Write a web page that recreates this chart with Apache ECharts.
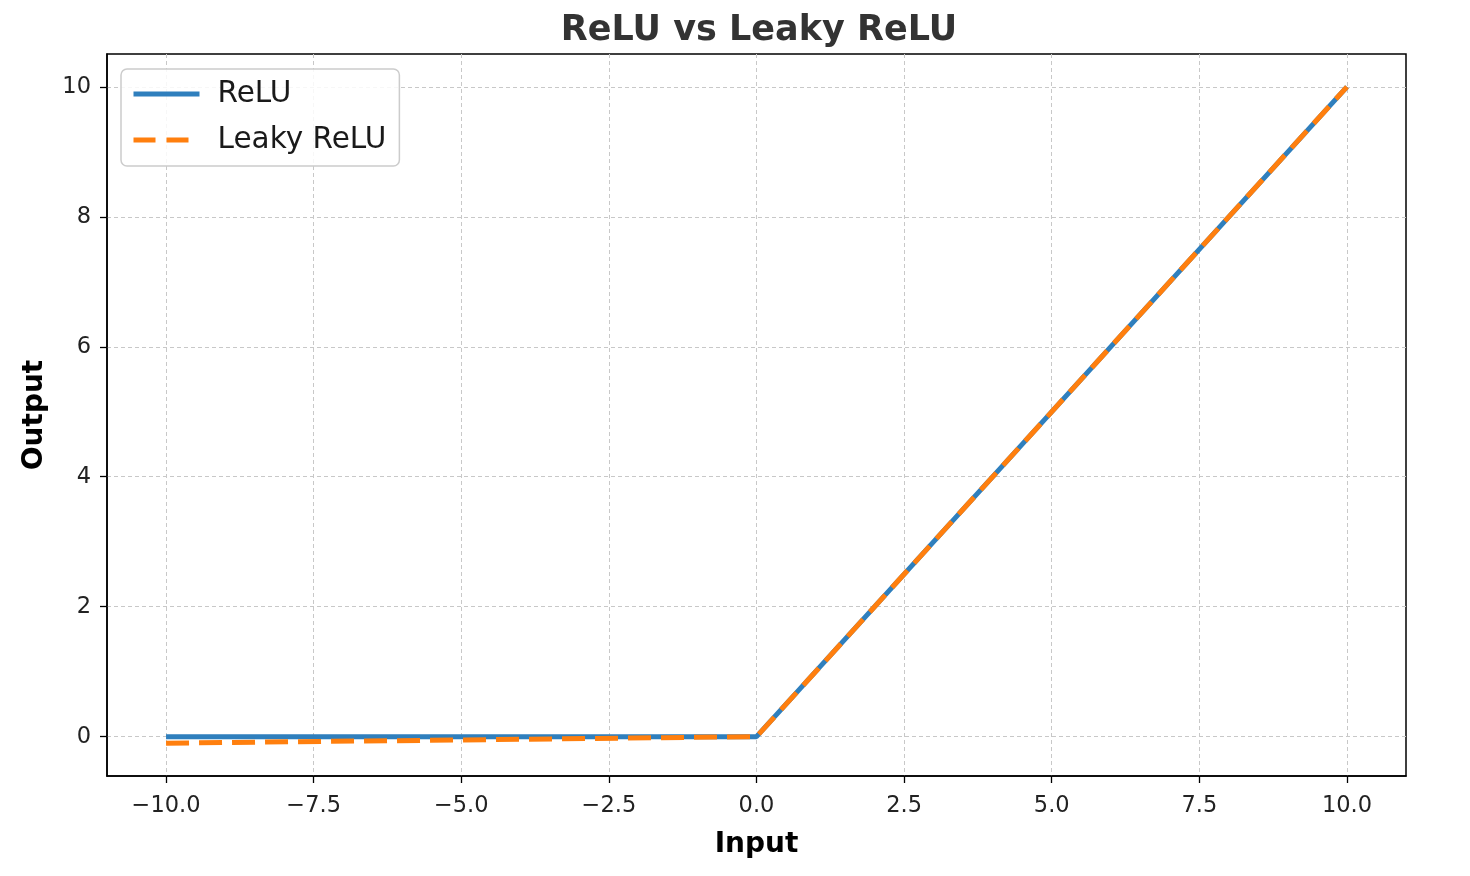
<!DOCTYPE html>
<html>
<head>
<meta charset="utf-8">
<script src="https://cdn.jsdelivr.net/npm/echarts@6/dist/echarts.min.js"></script>
<style>
html,body{margin:0;padding:0;background:#fff;}
#chart{width:1470px;height:876px;}
</style>
</head>
<body>
<div id="chart"></div>
<script>
// Data
const xValues = [-10, 0, 10];
const reluValues = [0, 0, 10];
const leakyValues = [-0.1, 0, 10];
const xTicks = [-10, -7.5, -5, -2.5, 0, 2.5, 5, 7.5, 10];
const yTicks = [0, 2, 4, 6, 8, 10];
const seriesNames = ['ReLU', 'Leaky ReLU'];

const FONT = 'DejaVu Sans';
const chart = echarts.init(document.getElementById('chart'));

function pairs(xs, ys) { return xs.map((x, i) => [x, ys[i]]); }

const BLUE = '#2f7fbd';
const ORANGE = '#ff7f0e';

const option = {
  animation: false,
  backgroundColor: '#ffffff',
  title: {
    text: 'ReLU vs Leaky ReLU',
    left: 754,
    textAlign: 'center',
    top: 8,
    textStyle: { fontFamily: FONT, fontSize: 35, fontWeight: 'bold', color: '#333333' }
  },
  legend: {
    orient: 'vertical',
    left: 121,
    top: 69,
    padding: [10, 13, 11, 10],
    itemWidth: 66,
    itemHeight: 28,
    itemGap: 16,
    backgroundColor: 'rgba(255,255,255,0.85)',
    borderColor: '#cccccc',
    borderWidth: 1.5,
    borderRadius: 6,
    itemStyle: { opacity: 0 },
    data: [
      { name: seriesNames[0], lineStyle: { color: BLUE, width: 5, type: 'solid' } },
      { name: seriesNames[1], lineStyle: { color: ORANGE, width: 5, type: [22, 11] } }
    ],
    textStyle: { fontFamily: FONT, fontSize: 29.5, color: '#1a1a1a', padding: [0, 0, 0, 13] }
  },
  grid: {
    left: 107, top: 54, width: 1299, height: 722,
    show: true, borderColor: '#000000', borderWidth: 1.5, backgroundColor: 'transparent'
  },
  xAxis: {
    type: 'value', min: -11, max: 11,
    name: 'Input', nameLocation: 'middle', nameGap: 55,
    nameTextStyle: { fontFamily: FONT, fontSize: 28, fontWeight: 'bold', color: '#000' },
    axisLine: { show: true, onZero: false, lineStyle: { color: '#000', width: 1.5 } },
    axisTick: { show: true, length: 7, lineStyle: { color: '#000', width: 1.3 }, customValues: xTicks },
    axisLabel: {
      customValues: xTicks, margin: 19,
      fontFamily: FONT, fontSize: 22.5, color: '#222',
      formatter: v => v.toFixed(1).replace('-', '\u2212')
    },
    splitLine: { show: true, lineStyle: { color: '#c8c8c8', width: 1, type: [4, 3] } }
  },
  yAxis: {
    type: 'value', min: -0.605, max: 10.505,
    name: 'Output', nameLocation: 'middle', nameGap: 58, nameRotate: 90,
    nameTextStyle: { fontFamily: FONT, fontSize: 28, fontWeight: 'bold', color: '#000' },
    axisLine: { show: true, onZero: false, lineStyle: { color: '#000', width: 1.5 } },
    axisTick: { show: true, length: 7, lineStyle: { color: '#000', width: 1.3 }, customValues: yTicks },
    axisLabel: {
      customValues: yTicks, margin: 16,
      fontFamily: FONT, fontSize: 22.5, color: '#222',
      formatter: v => String(v)
    },
    splitLine: { show: true, lineStyle: { color: '#c8c8c8', width: 1, type: [4, 3] } }
  },
  series: [
    {
      name: seriesNames[0], type: 'line', data: pairs(xValues, reluValues),
      symbol: 'none', z: 2,
      lineStyle: { color: BLUE, width: 5 },
      itemStyle: { color: BLUE }
    },
    {
      name: seriesNames[1], type: 'line', data: pairs(xValues, leakyValues),
      symbol: 'none', z: 3,
      lineStyle: { color: ORANGE, width: 5, type: [23, 10] },
      itemStyle: { color: ORANGE }
    }
  ]
};
chart.setOption(option);
</script>
</body>
</html>
